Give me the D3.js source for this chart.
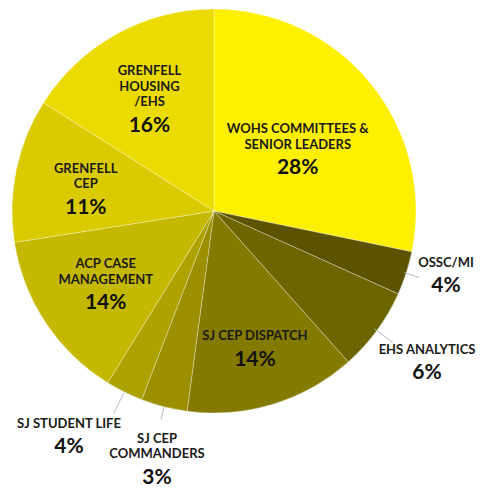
<!DOCTYPE html>
<html>
<head>
<meta charset="utf-8">
<script src="https://cdn.jsdelivr.net/npm/d3@7"></script>
<style>
  body { margin: 0; background: #fff; }
  svg { display: block; }
</style>
</head>
<body>
<div id="chart"></div>
<script>
// categories, clockwise from 12 o'clock
const categories = [
    ["WOHS COMMITTEES &", "SENIOR LEADERS"],
    ["OSSC/MI"],
    ["EHS ANALYTICS"],
    ["SJ CEP DISPATCH"],
    ["SJ CEP", "COMMANDERS"],
    ["SJ STUDENT LIFE"],
    ["ACP CASE", "MANAGEMENT"],
    ["GRENFELL", "CEP"],
    ["GRENFELL", "HOUSING", "/EHS"]
];
// slice sizes as drawn (share of the circle, %)
const shares = [28.25, 3.5, 6.7, 13.7, 3.7, 3.0, 13.7, 11.5, 16.0];
// percentages as printed on the chart
const pctLabels = ["28%", "4%", "6%", "14%", "3%", "4%", "14%", "11%", "16%"];
const colors = ["#fff000", "#5b5300", "#6d6600", "#857a00", "#9b8f00", "#aea200", "#c5b800", "#dacb00", "#ecdb00"];

const width = 486;
const height = 488;
const cx = 214;
const cy = 211;
const radius = 202;

// where each label goes: inside ones sit on a centroid radius (+ small nudge),
// outside ones get a leader line and an anchor point
const layout = [
    { inside: true, r: 108, dy: 5 },
    { inside: false, lead: [200, 216], at: [446, 262] },
    { inside: false, lead: [199, 222], at: [427, 349] },
    { inside: true, r: 140, dy: 2 },
    { inside: false, lead: [202, 215], at: [157, 438] },
    { inside: false, lead: [203, 226], at: [69, 423] },
    { inside: true, r: 130, dy: 0 },
    { inside: true, r: 131, dy: 3 },
    { inside: true, r: 134, dy: 4 }
];

const data = categories.map((c, i) => ({ lines: c, share: shares[i], pct: pctLabels[i], color: colors[i], lay: layout[i] }));

const pie = d3.pie().sort(null).value(d => d.share);
const arcs = pie(data);
const arc = d3.arc().innerRadius(0).outerRadius(radius);

const svg = d3.select("#chart").append("svg")
    .attr("width", width)
    .attr("height", height)
    .attr("viewBox", [0, 0, width, height]);

const g = svg.append("g").attr("transform", `translate(${cx},${cy})`);

g.selectAll("path.slice")
    .data(arcs)
    .join("path")
    .attr("class", "slice")
    .attr("fill", d => d.data.color)
    .attr("stroke", "rgba(255,255,255,0.45)")
    .attr("stroke-width", 0.7)
    .attr("d", arc);

const pointAt = (a, r) => {
    const m = (a.startAngle + a.endAngle) / 2;
    return [r * Math.sin(m), -r * Math.cos(m)];
};

// leader lines
g.selectAll("line.lead")
    .data(arcs.filter(d => !d.data.lay.inside))
    .join("line")
    .attr("class", "lead")
    .attr("stroke", "#b9b9b9")
    .attr("stroke-width", 1)
    .each(function (d) {
        const [x1, y1] = pointAt(d, d.data.lay.lead[0]);
        const [x2, y2] = pointAt(d, d.data.lay.lead[1]);
        d3.select(this).attr("x1", x1).attr("y1", y1).attr("x2", x2).attr("y2", y2);
    });

const lineH = 15.5;
const pctGap = 22.5;
const labelFont = "Lato, 'DejaVu Sans', sans-serif";

const labels = svg.append("g")
    .selectAll("g")
    .data(arcs)
    .join("g")
    .attr("transform", d => {
        let x, y;
        if (d.data.lay.inside) {
            const [px, py] = pointAt(d, d.data.lay.r);
            x = cx + px;
            // centre the whole block (name lines + percent) on the point
            const blockH = (d.data.lines.length - 1) * lineH + pctGap;
            y = cy + py - blockH / 2 + d.data.lay.dy;
        } else {
            [x, y] = d.data.lay.at;
        }
        return `translate(${x},${y})`;
    });

labels.each(function (d) {
    const t = d3.select(this);
    d.data.lines.forEach((ln, j) => {
        t.append("text")
            .attr("x", 0)
            .attr("y", j * lineH + 4.5)
            .attr("text-anchor", "middle")
            .attr("font-family", labelFont)
            .attr("font-weight", 700)
            .attr("font-size", "13px")
            .attr("fill", "#1a1a1a")
            .text(ln);
    });
    t.append("text")
        .attr("x", 0)
        .attr("y", (d.data.lines.length - 1) * lineH + pctGap + 7.5)
        .attr("text-anchor", "middle")
        .attr("font-family", labelFont)
        .attr("font-weight", 700)
        .attr("font-size", "21px")
        .attr("fill", "#111")
        .text(d.data.pct);
});
</script>
</body>
</html>
